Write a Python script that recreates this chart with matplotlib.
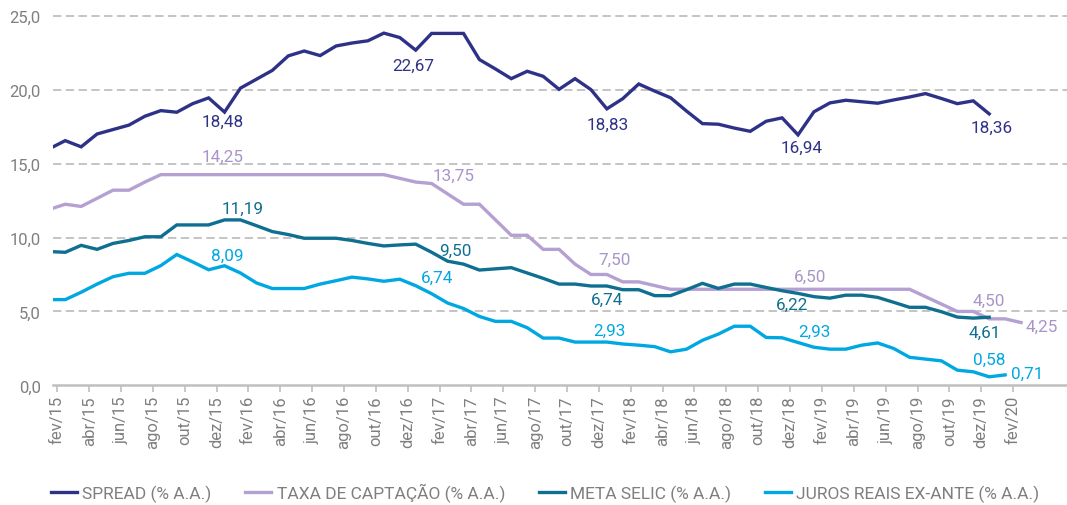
import matplotlib
matplotlib.use("Agg")
import matplotlib.pyplot as plt
from matplotlib.lines import Line2D
import numpy as np

plt.rcParams['font.family'] = ['Roboto', 'DejaVu Sans']
plt.rcParams['lines.scale_dashes'] = False

# ---------------- data (monthly, first month = jan/15) ----------------
month_names = ['jan', 'fev', 'mar', 'abr', 'mai', 'jun', 'jul', 'ago', 'set', 'out', 'nov', 'dez']

spread = [16.0, 16.55, 16.13, 17.0, 17.3, 17.6, 18.2, 18.58, 18.47, 19.05,
          19.44, 18.48, 20.1, 20.7, 21.3, 22.28, 22.61, 22.3, 22.95, 23.15,
          23.3, 23.82, 23.52, 22.67, 23.8, 23.8, 23.8, 22.03, 21.4, 20.74,
          21.24, 20.9, 20.02, 20.74, 20.0, 18.7, 19.39, 20.38, 19.9, 19.45,
          18.55, 17.7, 17.66, 17.4, 17.18, 17.86, 18.09, 16.94, 18.5, 19.1,
          19.28, 19.18, 19.08, 19.3, 19.5, 19.73, 19.4, 19.05, 19.24, 18.36]

taxa = [11.9, 12.25, 12.1, 12.65, 13.2, 13.2, 13.75, 14.25, 14.25, 14.25,
        14.25, 14.25, 14.25, 14.25, 14.25, 14.25, 14.25, 14.25, 14.25, 14.25,
        14.25, 14.25, 14.0, 13.75, 13.65, 12.95, 12.25, 12.25, 11.2, 10.15,
        10.15, 9.2, 9.2, 8.2, 7.5, 7.5, 7.0, 7.0, 6.75, 6.5,
        6.5, 6.5, 6.5, 6.5, 6.5, 6.5, 6.5, 6.5, 6.5, 6.5,
        6.5, 6.5, 6.5, 6.5, 6.5, 6.0, 5.5, 5.0, 5.0, 4.5,
        4.5, 4.25]

selic = [9.05, 9.0, 9.47, 9.2, 9.6, 9.8, 10.05, 10.05, 10.85, 10.85,
         10.85, 11.19, 11.19, 10.8, 10.4, 10.2, 9.95, 9.95, 9.95, 9.8,
         9.6, 9.43, 9.5, 9.55, 9.0, 8.4, 8.2, 7.8, 7.88, 7.96,
         7.6, 7.24, 6.85, 6.85, 6.72, 6.72, 6.47, 6.47, 6.07, 6.07,
         6.47, 6.9, 6.56, 6.85, 6.85, 6.62, 6.4, 6.22, 6.0, 5.9,
         6.1, 6.1, 5.95, 5.62, 5.28, 5.28, 4.98, 4.62, 4.55, 4.61]

juros = [5.8, 5.8, 6.3, 6.85, 7.35, 7.58, 7.58, 8.1, 8.85, 8.35,
         7.82, 8.09, 7.6, 6.93, 6.55, 6.55, 6.55, 6.85, 7.08, 7.32,
         7.2, 7.04, 7.18, 6.74, 6.2, 5.57, 5.2, 4.66, 4.33, 4.33,
         3.9, 3.2, 3.2, 2.93, 2.93, 2.93, 2.8, 2.72, 2.62, 2.27,
         2.45, 3.05, 3.47, 4.0, 4.0, 3.24, 3.22, 2.9, 2.58, 2.45,
         2.45, 2.72, 2.87, 2.5, 1.9, 1.78, 1.66, 1.03, 0.92, 0.58,
         0.71]

series_names = ['SPREAD (% A.A.)', 'TAXA DE CAPTAÇÃO (% A.A.)',
                'META SELIC (% A.A.)', 'JUROS REAIS EX-ANTE (% A.A.)']
colors = ['#2e3287', '#b4a0d1', '#0f6f90', '#00a8e2']
label_colors = ['#2e3287', '#a994c9', '#0f6f90', '#00a8e2']

# data labels: (series index, month index, text, dx px, dy px)
labels = [
    (0, 11, '18,48', -2, -9), (0, 23, '22,67', -2, -15), (0, 35, '18,83', 1, -15),
    (0, 47, '16,94', 4, -12), (0, 59, '18,36', 2, -13),
    (1, 11, '14,25', -2, 18), (1, 25, '13,75', 6, 19), (1, 35, '7,50', 8, 15),
    (1, 47, '6,50', 12, 13), (1, 59, '4,50', 0, 19), (1, 61, '4,25', 21, -4),
    (2, 12, '11,19', 2, 12), (2, 25, '9,50', 8, 11), (2, 35, '6,74', 0, -13),
    (2, 47, '6,22', -6, -11), (2, 59, '4,61', -4, -15),
    (3, 11, '8,09', 3, 10), (3, 23, '6,74', 21, 8), (3, 35, '2,93', 3, 12),
    (3, 47, '2,93', 16, 11), (3, 59, '0,58', 0, 17), (3, 60, '0,71', 22, 2),
]

# ---------------- figure ----------------
W, H = 1067, 506
fig = plt.figure(figsize=(W / 100, H / 100), dpi=100)
left_px, bottom_px, top_px = 53.3, 386.4, 13.7
ax = fig.add_axes([left_px / W, 1 - bottom_px / H, 1 - left_px / W, (bottom_px - top_px) / H])

all_series = [spread, taxa, selic, juros]
# month index k -> position relative to fev/15 tick (points sit mid-month)
for s, c, name in zip(all_series, colors, series_names):
    x = np.arange(len(s)) - 1 + 0.5
    ax.plot(x, s, color=c, lw=2.4, solid_joinstyle='miter', label=name, zorder=3)

for si, k, txt, dx, dy in labels:
    xk = k - 1 + 0.5
    ax.annotate(txt, xy=(xk, all_series[si][k]), xytext=(dx, dy),
                textcoords='offset pixels', ha='center', va='center',
                color=label_colors[si], fontsize=12.3, zorder=5)

ax.set_xlim(-0.25, -0.25 + (W - left_px) / 15.93)
ax.set_ylim(0, 25.2)

ticks = np.arange(0, 61, 2)
tick_labels = []
for t in ticks:
    mi = (1 + t) % 12
    yr = 15 + (1 + t) // 12
    tick_labels.append(f"{month_names[mi]}/{yr:02d}")
ax.set_xticks(ticks)
ax.set_xticklabels(tick_labels, rotation=90)

yt = [0, 5, 10, 15, 20, 25]
ax.set_yticks(yt)
ax.set_yticklabels([f"{v:.1f}".replace('.', ',') for v in yt])

gray = '#7f7f7f'
ax.tick_params(axis='x', colors='#bfbfbf', labelcolor=gray, labelsize=12, length=5, width=1.2, pad=2)
ax.tick_params(axis='y', length=0, labelcolor=gray, labelsize=12, pad=9)

for sp in ['top', 'right', 'left']:
    ax.spines[sp].set_visible(False)
ax.spines['bottom'].set_color('#bfbfbf')
ax.spines['bottom'].set_linewidth(1.8)

for v in yt[1:]:
    ax.axhline(v, color='#c4c4c4', lw=1.4, dashes=(6, 3.2), zorder=1)

handles = [Line2D([0], [0], color=c, lw=2.4) for c in colors]
leg = fig.legend(handles, series_names, loc='center', bbox_to_anchor=(0.511, 0.024),
                 ncol=4, frameon=False, fontsize=12.5, handlelength=1.5,
                 handletextpad=0.3, columnspacing=1.95)
for t in leg.get_texts():
    t.set_color(gray)

fig.savefig('out.png', dpi=100)
